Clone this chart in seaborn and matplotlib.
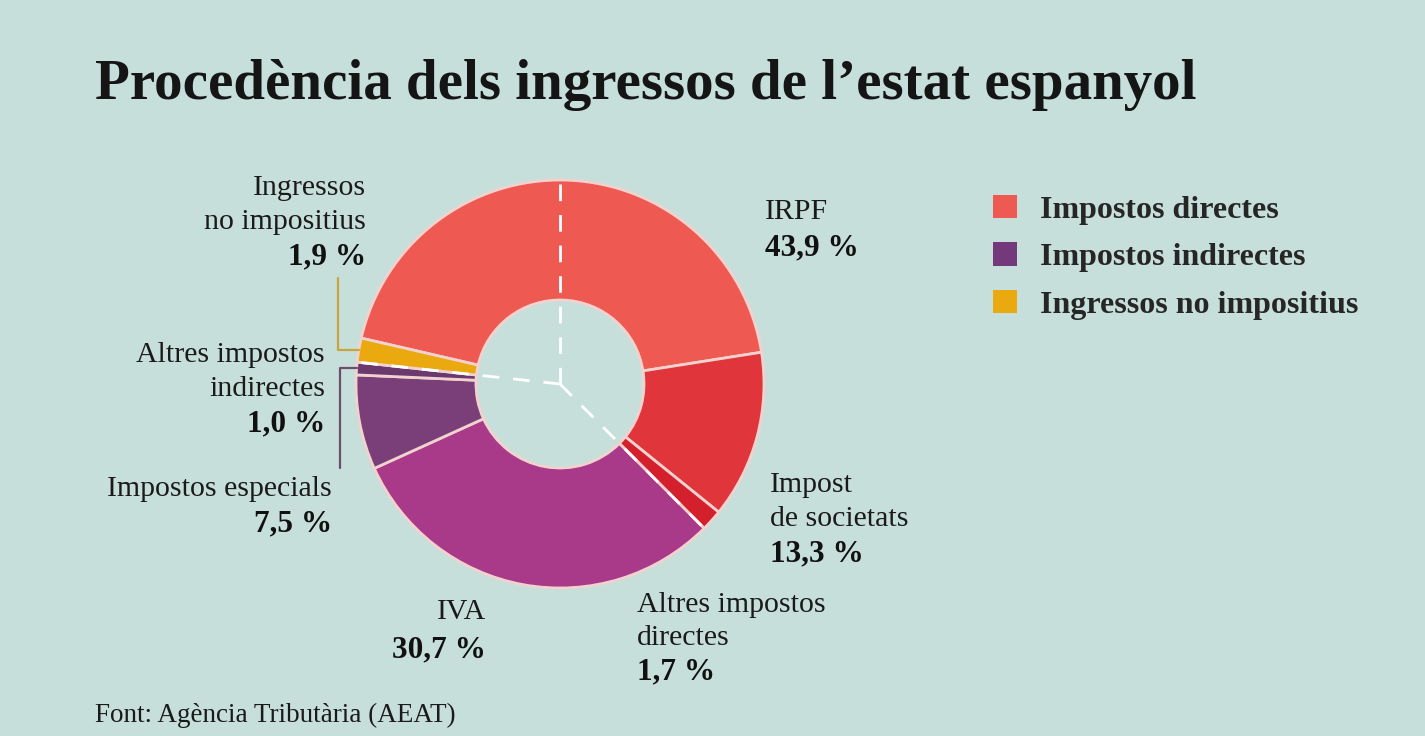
import matplotlib
matplotlib.use("Agg")
import numpy as np
import matplotlib.pyplot as plt
import seaborn as sns
from matplotlib.patches import Patch

# data
categories = ["IRPF", "Impost de societats", "Altres impostos directes", "IVA",
              "Impostos especials", "Altres impostos indirectes", "Ingressos no impositius"]
shares = [43.9, 13.3, 1.7, 30.7, 7.5, 1.0, 1.9]
group_of = [0, 0, 0, 1, 1, 1, 2]
group_names = ["Impostos directes", "Impostos indirectes", "Ingressos no impositius"]

slice_colors = ["#EE5A51", "#E0353B", "#D4202C", "#A93A8A", "#7A3F79", "#6A3A6E", "#E9A90F"]
group_colors = ["#EE5A51", "#74397A", "#E9A90F"]
BG = "#C7DFDA"

sns.set_theme(style="white", rc={"axes.facecolor": BG, "figure.facecolor": BG})
plt.rcParams["font.family"] = ["Liberation Serif", "DejaVu Serif"]

W, H = 1425, 736
fig = plt.figure(figsize=(W / 100, H / 100), dpi=100)
ax = fig.add_axes([0, 0, 1, 1])

cx, cy, R, r_in = 560, H - 384, 204, 84
start = 167
wedges, _ = ax.pie(shares, colors=slice_colors, startangle=start, counterclock=False,
                   radius=R, center=(cx, cy),
                   wedgeprops=dict(width=R - r_in, edgecolor="#F2D2CF", linewidth=2))
ax.set_xlim(0, W)
ax.set_ylim(0, H)
ax.set_aspect("equal")
ax.axis("off")

# boundary angles (degrees, math convention)
edges = start - 360 * np.concatenate([[0], np.cumsum(shares)]) / 100
mids = (edges[:-1] + edges[1:]) / 2

# dashed separators: top reference + group boundaries
dash = dict(color="white", lw=2, ls=(0, (6, 5)), zorder=5)
ax.plot([cx, cx], [cy, cy + R], **dash)
for i in range(1, len(shares)):
    if group_of[i] != group_of[i - 1]:
        a = np.deg2rad(edges[i])
        ax.plot([cx, cx + R * np.cos(a)], [cy, cy + R * np.sin(a)], **dash)


def px(x, y):
    return x, H - y


def pct(v):
    return f"{v:.1f}".replace(".", ",") + " %"


LAB = 21.5
BOLD = 22.5


def label(x, y, lines, value, ha, step=34):
    for k, s in enumerate(lines):
        ax.text(*px(x, y + k * step), s, ha=ha, va="center", fontsize=LAB, color="#1a1a1a")
    ax.text(*px(x, y + len(lines) * step + 1), pct(value), ha=ha, va="center",
            fontsize=BOLD, fontweight="bold", color="#111111")


label(765, 212, ["IRPF"], shares[0], "left", step=35)
label(770, 485, ["Impost", "de societats"], shares[1], "left")
label(637, 605, ["Altres impostos", "directes"], shares[2], "left", step=33)
label(486, 612, ["IVA"], shares[3], "right", step=37)
label(332, 489, ["Impostos especials"], shares[4], "right", step=34)
label(325, 355, ["Altres impostos", "indirectes"], shares[5], "right")
label(366, 188, ["Ingressos", "no impositius"], shares[6], "right")

# leader lines to the two thin slices on the left
for idx, xv, yend, col in [(6, 338, 278, "#C9A63C"), (5, 340, 468, "#6E4C6E")]:
    a = np.deg2rad(mids[idx])
    x0, y0 = cx + R * np.cos(a), cy + R * np.sin(a)
    ax.plot([x0, xv, xv], [y0, y0, H - yend], color=col, lw=1.6, zorder=1)

ax.text(*px(95, 85), "Procedència dels ingressos de l\u2019estat espanyol", ha="left", va="center",
        fontsize=41, fontweight="bold", color="#151515")
ax.text(*px(95, 715), "Font: Agència Tributària (AEAT)", ha="left", va="center",
        fontsize=19.5, color="#1a1a1a")

handles = [Patch(facecolor=c, edgecolor="none") for c in group_colors]
ax.legend(handles, group_names, loc="upper left", bbox_to_anchor=(993 / W, 1 - 195 / H),
          frameon=False, prop={"weight": "bold", "size": 23},
          handlelength=0.75, handleheight=0.75, handletextpad=0.72, labelspacing=0.55,
          borderpad=0, borderaxespad=0)

fig.savefig("out.png", dpi=100, facecolor=BG)
